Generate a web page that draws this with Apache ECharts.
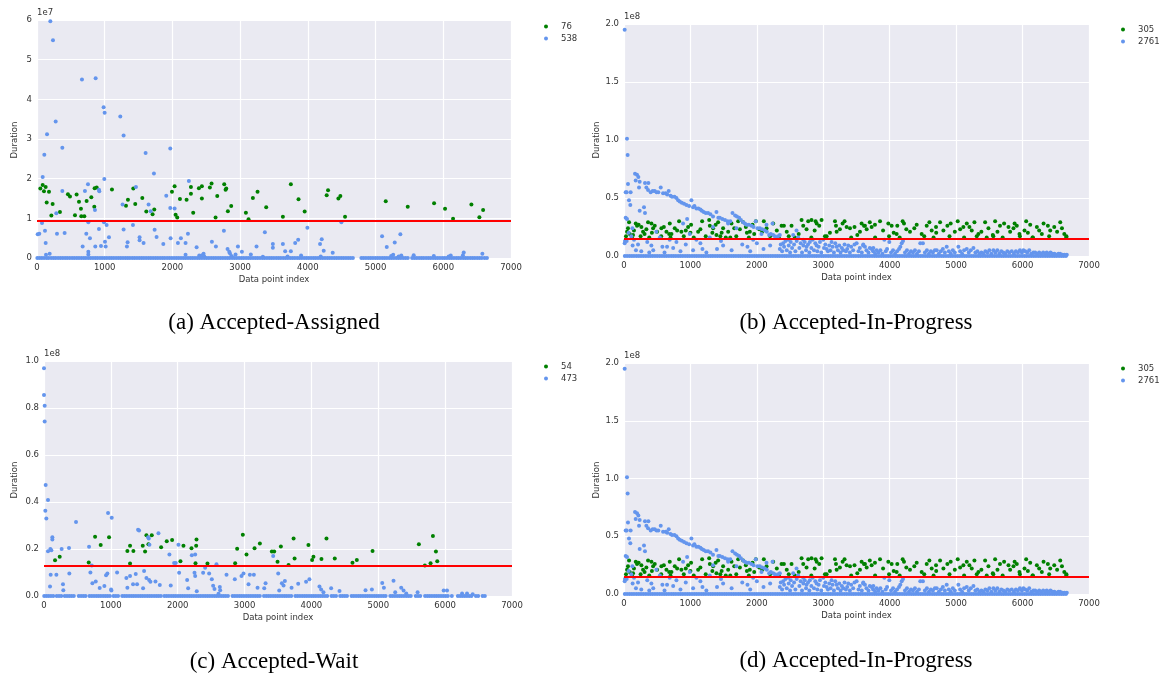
<!DOCTYPE html>
<html>
<head>
<meta charset="utf-8">
<script src="https://cdn.jsdelivr.net/npm/echarts@6.0.0/dist/echarts.min.js"></script>
<style>
  html, body { margin: 0; padding: 0; background: #fff; }
  #chart { width: 1166px; height: 675px; }
</style>
</head>
<body>
<div id="chart"></div>
<script>
const GREEN = '#008000';
const BLUE = '#6495ed';
const RED = '#ff0000';
const TEXT = '#333333';
const FONT = 'DejaVu Sans';

const xTicks = [0, 1000, 2000, 3000, 4000, 5000, 6000, 7000];
const captions = ['(a) Accepted-Assigned', '(b) Accepted-In-Progress', '(c) Accepted-Wait', '(d) Accepted-In-Progress'];

// (a) Accepted-Assigned, durations in units of 1e7
const aLegend = ['76', '538'];
const aYTicks = [0, 1, 2, 3, 4, 5, 6];
const aLimit = 0.925;
const aGreen = [
  [49, 1.75], [84, 1.84], [103, 1.68], [128, 1.79], [143, 1.40], [177, 1.67], [212, 1.07], [231, 1.36], [339, 1.16],
  [457, 1.61], [487, 1.55], [561, 1.08], [585, 1.60], [620, 1.42], [649, 1.24], [654, 1.05], [699, 1.05], [733, 1.44],
  [802, 1.53], [846, 1.29], [851, 1.76], [881, 1.78], [1107, 1.73], [1343, 1.47], [1314, 1.32], [1422, 1.75], [1451, 1.36],
  [1555, 1.51], [1614, 1.17], [1707, 1.10], [1732, 1.22], [1993, 1.67], [2032, 1.81], [2047, 1.09], [2071, 1.02],
  [2111, 1.49], [2209, 1.47], [2273, 1.79], [2273, 1.62], [2307, 1.14], [2391, 1.76], [2435, 1.81], [2435, 1.50],
  [2553, 1.78], [2578, 1.88], [2637, 1.02], [2662, 1.56], [2765, 1.86], [2785, 1.72], [2795, 1.75], [2819, 1.18],
  [2868, 1.31], [3085, 1.14], [3124, 0.98], [3188, 1.51], [3257, 1.67], [3385, 1.28], [3631, 1.04], [3749, 1.86],
  [3862, 1.48], [3953, 1.17], [4278, 1.58], [4298, 1.71], [4451, 1.50], [4480, 1.56], [4549, 1.04], [5150, 1.43],
  [5475, 1.29], [5864, 1.38], [6026, 1.24], [6144, 0.99], [6415, 1.35], [6533, 1.03], [6588, 1.21]
];
const aBlue = [
  [197, 5.97], [236, 5.49], [664, 4.50], [866, 4.53], [984, 3.80], [999, 3.66], [1230, 3.57], [1279, 3.09], [276, 3.44],
  [148, 3.12], [374, 2.78], [108, 2.60], [1604, 2.65], [1968, 2.76], [1727, 2.13], [84, 2.04], [994, 1.99], [2243, 1.94],
  [753, 1.86], [1461, 1.79], [374, 1.69], [708, 1.69], [915, 1.72], [920, 1.68], [1909, 1.57], [856, 1.21], [1648, 1.35],
  [1264, 1.35], [1968, 1.26], [2032, 1.25], [1678, 1.18], [285, 1.13], [74, 0.88], [758, 0.90], [989, 0.90], [1028, 0.83],
  [1417, 0.83], [118, 0.69], [2760, 0.69], [10, 0.60], [34, 0.61], [295, 0.61], [408, 0.63], [728, 0.61], [2229, 0.61],
  [915, 0.73], [1279, 0.72], [1737, 0.71], [1063, 0.52], [782, 0.50], [1515, 0.52], [1515, 0.45], [1973, 0.50],
  [2125, 0.50], [1766, 0.53], [1338, 0.40], [1328, 0.29], [1004, 0.41], [128, 0.38], [1574, 0.38], [1865, 0.35],
  [2081, 0.38], [2194, 0.38], [2583, 0.41], [2642, 0.29], [2357, 0.27], [861, 0.29], [674, 0.29], [945, 0.30],
  [1014, 0.29], [2814, 0.23], [2967, 0.29], [3242, 0.29], [3026, 0.16], [2932, 0.09], [3158, 0.09], [2839, 0.16],
  [2849, 0.12], [758, 0.16], [758, 0.09], [187, 0.11], [133, 0.08], [2194, 0.08], [2460, 0.11], [2396, 0.06],
  [2420, 0.05], [2440, 0.07], [2470, 0.04], [3365, 0.65], [3483, 0.35], [3483, 0.26], [3631, 0.35], [3665, 0.17],
  [3749, 0.17], [3813, 0.38], [3857, 0.46], [3336, 0.03], [3993, 0.76], [4495, 0.90], [4180, 0.35], [4205, 0.47],
  [4234, 0.18], [4367, 0.13], [5096, 0.55], [5165, 0.28], [5283, 0.39], [5366, 0.60], [5230, 0.05], [5260, 0.08],
  [5340, 0.04], [5380, 0.06], [5563, 0.07], [5860, 0.05], [6080, 0.04], [6110, 0.06], [6302, 0.14], [6290, 0.07],
  [6577, 0.11], [3700, 0.04], [3900, 0.06], [4190, 0.04], [2870, 0.05], [2880, 0.03]
];
const aZero = [
  5, 38, 71, 104, 140, 172, 209, 243, 276, 311, 345, 380, 414, 447, 483, 518, 551, 587, 620, 655, 690, 722, 757, 791,
  826, 860, 893, 929, 962, 997, 1031, 1066, 1099, 1133, 1168, 1202, 1236, 1270, 1305, 1339, 1372, 1407, 1441, 1476,
  1510, 1545, 1578, 1612, 1647, 1681, 1715, 1750, 1784, 1818, 1852, 1886, 1921, 1955, 1990, 2024, 2058, 2092, 2127,
  2161, 2195, 2230, 2264, 2298, 2332, 2367, 2401, 2435, 2469, 2504, 2538, 2572, 2607, 2641, 2675, 2709, 2744, 2778,
  2812, 2846, 2881, 2915, 2949, 2984, 3018, 3052, 3087, 3121, 3155, 3190, 3224, 3258, 3293, 3327, 3361, 3396, 3430,
  3464, 3498, 3533, 3567, 3601, 3636, 3670, 3704, 3739, 3773, 3807, 3842, 3876, 3910, 3945, 3979, 4013, 4047, 4082,
  4116, 4150, 4185, 4219, 4253, 4288, 4322, 4356, 4390, 4425, 4459, 4493, 4527, 4562, 4596, 4630, 4665, 4790, 4824,
  4858, 4893, 4927, 4961, 4996, 5030, 5064, 5099, 5133, 5167, 5202, 5236, 5270, 5305, 5339, 5373, 5408, 5442, 5476,
  5540, 5574, 5608, 5643, 5677, 5711, 5746, 5780, 5814, 5849, 5883, 5917, 5951, 5986, 6020, 6054, 6089, 6123, 6157,
  6192, 6226, 6260, 6295, 6329, 6363, 6398, 6432, 6466, 6501, 6535, 6569, 6610, 6645
];

// (b) and (d) Accepted-In-Progress, durations in units of 1e8
const bLegend = ['305', '2761'];
const bYTicks = [0, 0.5, 1.0, 1.5, 2.0];
const bLimit = 0.155;
const bGreen = [
  [76, 0.29], [46, 0.21], [86, 0.19], [136, 0.18], [177, 0.28], [196, 0.26], [262, 0.25], [287, 0.21], [337, 0.23],
  [362, 0.29], [413, 0.28], [438, 0.24], [463, 0.26], [498, 0.21], [563, 0.24], [639, 0.21], [689, 0.28], [714, 0.19],
  [764, 0.24], [829, 0.30], [864, 0.21], [930, 0.22], [965, 0.25], [1000, 0.20], [1116, 0.21], [1176, 0.30],
  [1282, 0.31], [1292, 0.26], [1342, 0.24], [1392, 0.18], [1417, 0.29], [1492, 0.24], [1532, 0.16], [1568, 0.21],
  [1618, 0.28], [1719, 0.30], [1744, 0.23], [1794, 0.29], [1834, 0.25], [1894, 0.21], [1935, 0.27], [1985, 0.30],
  [2035, 0.23], [2105, 0.30], [2146, 0.24], [2246, 0.28], [2372, 0.26], [2407, 0.26], [2522, 0.26], [2572, 0.16],
  [2673, 0.31], [2698, 0.26], [2748, 0.23], [2773, 0.30], [2823, 0.31], [2884, 0.30], [2939, 0.26], [2974, 0.31],
  [3025, 0.17], [3176, 0.30], [3191, 0.26], [3201, 0.21], [3291, 0.28], [3351, 0.25], [3402, 0.24], [3512, 0.18],
  [3552, 0.21], [3577, 0.28], [3613, 0.26], [3653, 0.23], [3627, 0.26], [3728, 0.25], [3778, 0.27], [3854, 0.30],
  [3979, 0.28], [4029, 0.26], [4114, 0.26], [4195, 0.30], [4215, 0.28], [4104, 0.19], [4305, 0.21], [4406, 0.27],
  [4481, 0.19], [4557, 0.26], [4597, 0.29], [4632, 0.22], [4697, 0.25], [4758, 0.29], [4808, 0.22], [4868, 0.26],
  [4918, 0.28], [5024, 0.30], [5109, 0.25], [5160, 0.28], [5235, 0.22], [5275, 0.29], [5335, 0.19], [5436, 0.29],
  [5486, 0.24], [5552, 0.18], [5587, 0.30], [5622, 0.21], [5722, 0.28], [5788, 0.25], [5813, 0.21], [5863, 0.24],
  [5913, 0.26], [5953, 0.19], [6029, 0.22], [6054, 0.30], [6115, 0.27], [6155, 0.16], [6215, 0.25], [6290, 0.19],
  [6316, 0.28], [6381, 0.26], [6416, 0.22], [6477, 0.25], [6567, 0.29], [6593, 0.24], [6628, 0.19], [6658, 0.16],
  [30, 0.17], [120, 0.16], [250, 0.17], [380, 0.16], [560, 0.17], [700, 0.16], [900, 0.17], [1050, 0.16], [1230, 0.17],
  [1450, 0.17], [1600, 0.16], [1690, 0.17], [1880, 0.16], [2200, 0.17], [2330, 0.16], [2480, 0.17], [2820, 0.16],
  [3050, 0.17], [3420, 0.16], [3780, 0.16], [3990, 0.17], [4150, 0.16], [4520, 0.17], [4660, 0.16], [4900, 0.17],
  [5120, 0.16], [5310, 0.17], [5460, 0.16], [5560, 0.17], [5700, 0.16], [5960, 0.17], [6150, 0.16], [6400, 0.17],
  [6660, 0.17], [60, 0.24], [150, 0.22], [220, 0.27], [310, 0.19], [420, 0.20], [600, 0.25], [680, 0.19], [800, 0.22],
  [1010, 0.27], [1150, 0.23], [1330, 0.20], [1380, 0.27], [1470, 0.20], [1660, 0.24], [1850, 0.20], [1960, 0.19],
  [2080, 0.21], [2300, 0.22], [2450, 0.21], [2630, 0.19], [2870, 0.22], [2900, 0.28], [3100, 0.20], [3250, 0.23],
  [3320, 0.30], [3470, 0.25], [3700, 0.29], [3900, 0.22], [4060, 0.20], [4250, 0.23], [4370, 0.24], [4700, 0.20],
  [4980, 0.21], [5060, 0.23], [5200, 0.25], [5380, 0.21], [5660, 0.26], [5880, 0.28], [6080, 0.20], [6250, 0.22],
  [6520, 0.21]
];
const bBlue = [
  [10, 1.95], [45, 1.01], [55, 0.87], [60, 0.62], [25, 0.55], [40, 0.55], [100, 0.55], [75, 0.48], [95, 0.44], [25, 0.33],
  [45, 0.32], [15, 0.13], [40, 0.13], [10, 0.11], [166, 0.71], [196, 0.70], [216, 0.68], [176, 0.65], [236, 0.64],
  [226, 0.59], [316, 0.63], [367, 0.63], [337, 0.59], [362, 0.57], [402, 0.55], [432, 0.56], [462, 0.56], [490, 0.55],
  [517, 0.55], [553, 0.59], [588, 0.54], [628, 0.54], [650, 0.53], [673, 0.56], [700, 0.52], [723, 0.51], [760, 0.51],
  [789, 0.50], [815, 0.48], [839, 0.47], [870, 0.46], [904, 0.45], [940, 0.44], [980, 0.43], [1015, 0.48], [1040, 0.42],
  [1060, 0.43], [1090, 0.41], [1120, 0.41], [1150, 0.40], [1171, 0.39], [1200, 0.38], [1231, 0.37], [1265, 0.37],
  [1301, 0.36], [1340, 0.34], [1392, 0.38], [1420, 0.33], [1442, 0.33], [1480, 0.32], [1520, 0.31], [1560, 0.30],
  [1600, 0.30], [1633, 0.37], [1673, 0.35], [1700, 0.34], [1733, 0.33], [1760, 0.31], [1794, 0.29], [1820, 0.28],
  [1844, 0.27], [1880, 0.27], [1919, 0.26], [1950, 0.25], [1984, 0.30], [2010, 0.24], [2045, 0.24], [2080, 0.23],
  [2120, 0.22], [2150, 0.21], [2185, 0.18], [2210, 0.19], [2246, 0.18], [2270, 0.17], [2296, 0.16], [2320, 0.17],
  [2346, 0.18], [316, 0.37], [301, 0.42], [236, 0.39], [126, 0.24], [151, 0.14], [211, 0.10], [412, 0.09], [487, 0.21],
  [578, 0.08], [648, 0.08], [688, 0.14], [789, 0.12], [889, 0.28], [950, 0.32], [990, 0.19], [1090, 0.14], [1181, 0.06],
  [1291, 0.16], [1341, 0.25], [1492, 0.09], [1567, 0.28], [1693, 0.24], [1859, 0.08], [1944, 0.14], [2070, 0.19],
  [2145, 0.27], [2236, 0.28], [70, 0.20], [110, 0.17], [130, 0.09], [180, 0.05], [260, 0.04], [350, 0.12], [380, 0.03],
  [440, 0.05], [540, 0.16], [610, 0.03], [740, 0.07], [850, 0.04], [930, 0.10], [1040, 0.05], [1150, 0.11], [1240, 0.03],
  [1400, 0.06], [1460, 0.13], [1620, 0.05], [1780, 0.10], [1900, 0.04], [2000, 0.11], [2100, 0.06], [2200, 0.09],
  [2346, 0.06], [2396, 0.11], [2472, 0.14], [2547, 0.18], [2597, 0.22], [2622, 0.16], [2698, 0.14], [2748, 0.08],
  [2798, 0.12], [2899, 0.09], [2999, 0.14], [3050, 0.06], [3125, 0.12], [3200, 0.08], [3301, 0.05], [3376, 0.09],
  [3502, 0.11], [3627, 0.08], [3728, 0.06], [3803, 0.05], [2360, 0.10], [2380, 0.04], [2410, 0.08], [2430, 0.13],
  [2450, 0.05], [2480, 0.09], [2500, 0.03], [2510, 0.12], [2530, 0.07], [2560, 0.10], [2580, 0.04], [2600, 0.13],
  [2640, 0.07], [2660, 0.11], [2680, 0.03], [2700, 0.09], [2720, 0.12], [2740, 0.05], [2770, 0.10], [2790, 0.03],
  [2820, 0.07], [2840, 0.14], [2860, 0.05], [2880, 0.11], [2910, 0.04], [2930, 0.08], [2950, 0.12], [2970, 0.03],
  [3010, 0.07], [3030, 0.10], [3070, 0.04], [3090, 0.09], [3110, 0.05], [3140, 0.08], [3160, 0.03], [3180, 0.11],
  [3220, 0.05], [3240, 0.09], [3260, 0.03], [3280, 0.07], [3320, 0.10], [3340, 0.04], [3360, 0.06], [3400, 0.03],
  [3420, 0.08], [3450, 0.05], [3470, 0.10], [3530, 0.04], [3550, 0.07], [3580, 0.03], [3600, 0.09], [3650, 0.05],
  [3680, 0.03], [3700, 0.07], [3750, 0.04], [3780, 0.02], [3602, 0.10], [3753, 0.07], [3919, 0.14], [3994, 0.12],
  [4180, 0.11], [4200, 0.13], [4460, 0.11], [4500, 0.11], [4708, 0.05], [4858, 0.08], [5034, 0.08], [5160, 0.06],
  [5260, 0.07], [5561, 0.05], [5837, 0.04], [6013, 0.05], [6163, 0.03], [6364, 0.03], [6565, 0.02], [6666, 0.01],
  [3830, 0.03], [3860, 0.05], [3890, 0.02], [3940, 0.04], [3960, 0.06], [4020, 0.03], [4050, 0.05], [4080, 0.02],
  [4110, 0.04], [4140, 0.06], [4160, 0.08], [4230, 0.03], [4260, 0.05], [4290, 0.02], [4320, 0.04], [4350, 0.03],
  [4380, 0.05], [4410, 0.02], [4440, 0.04], [4530, 0.03], [4560, 0.05], [4590, 0.02], [4620, 0.04], [4650, 0.03],
  [4680, 0.05], [4740, 0.02], [4770, 0.04], [4800, 0.06], [4830, 0.03], [4890, 0.04], [4920, 0.02], [4950, 0.05],
  [4980, 0.03], [5060, 0.04], [5090, 0.02], [5120, 0.05], [5190, 0.03], [5220, 0.05], [5290, 0.03], [5320, 0.04],
  [5350, 0.02], [5380, 0.03], [5410, 0.02], [5440, 0.04], [5470, 0.03], [5500, 0.05], [5530, 0.02], [5590, 0.03],
  [5620, 0.05], [5650, 0.02], [5680, 0.04], [5710, 0.03], [5740, 0.02], [5770, 0.04], [5800, 0.03], [5870, 0.02],
  [5900, 0.04], [5930, 0.03], [5960, 0.05], [5990, 0.03], [6040, 0.04], [6070, 0.03], [6100, 0.05], [6130, 0.02],
  [6190, 0.03], [6220, 0.02], [6250, 0.03], [6280, 0.02], [6310, 0.03], [6340, 0.02], [6390, 0.02], [6420, 0.03],
  [6450, 0.02], [6480, 0.02], [6510, 0.01], [6540, 0.02], [6600, 0.01], [6630, 0.01]
];
const bZero = [
  12, 47, 83, 118, 151, 187, 222, 256, 291, 327, 362, 396, 431, 466, 500, 536, 571, 605, 640, 676, 711, 745, 780, 815,
  850, 884, 919, 954, 989, 1024, 1058, 1093, 1128, 1163, 1197, 1232, 1267, 1302, 1336, 1371, 1406, 1441, 1475, 1510,
  1545, 1580, 1614, 1649, 1684, 1719, 1753, 1788, 1823, 1858, 1892, 1927, 1962, 1997, 2031, 2066, 2101, 2136, 2170,
  2205, 2240, 2275, 2309, 2344, 2379, 2414, 2448, 2483, 2518, 2553, 2587, 2622, 2657, 2692, 2726, 2761, 2796, 2831,
  2865, 2900, 2935, 2970, 3004, 3039, 3074, 3109, 3143, 3178, 3213, 3248, 3282, 3317, 3352, 3387, 3421, 3456, 3491,
  3526, 3560, 3595, 3630, 3665, 3699, 3734, 3769, 3804, 3838, 3873, 3908, 3943, 3977, 4012, 4047, 4082, 4116, 4151,
  4186, 4221, 4255, 4290, 4325, 4360, 4394, 4429, 4464, 4499, 4533, 4568, 4603, 4638, 4672, 4707, 4742, 4777, 4811,
  4846, 4881, 4916, 4950, 4985, 5020, 5055, 5089, 5124, 5159, 5194, 5228, 5263, 5298, 5333, 5367, 5402, 5437, 5472,
  5506, 5541, 5576, 5611, 5645, 5680, 5715, 5750, 5784, 5819, 5854, 5889, 5923, 5958, 5993, 6028, 6062, 6097, 6132,
  6167, 6201, 6236, 6271, 6306, 6340, 6375, 6410, 6445, 6479, 6514, 6549, 6584, 6618, 6653
];

// (c) Accepted-Wait, durations in units of 1e8
const cLegend = ['54', '473'];
const cYTicks = [0, 0.2, 0.4, 0.6, 0.8, 1.0];
const cLimit = 0.132;
const cGreen = [
  [165, 0.152], [235, 0.167], [669, 0.143], [764, 0.252], [848, 0.217], [973, 0.25], [1247, 0.191], [1287, 0.214],
  [1287, 0.138], [1337, 0.191], [1477, 0.214], [1512, 0.189], [1532, 0.258], [1562, 0.22], [1612, 0.258], [1752, 0.207],
  [1836, 0.233], [1916, 0.238], [2041, 0.148], [2086, 0.214], [2206, 0.203], [2266, 0.139], [2276, 0.214], [2281, 0.24],
  [2445, 0.138], [2859, 0.139], [2889, 0.201], [2974, 0.261], [3029, 0.177], [3149, 0.203], [3229, 0.223], [3408, 0.189],
  [3443, 0.189], [3493, 0.146], [3543, 0.211], [3658, 0.132], [3733, 0.245], [3748, 0.16], [3955, 0.217], [4010, 0.153],
  [4030, 0.167], [4150, 0.157], [4225, 0.245], [4349, 0.16], [4614, 0.142], [4679, 0.153], [4914, 0.191], [5607, 0.22],
  [5697, 0.13], [5782, 0.139], [5817, 0.255], [5862, 0.189], [5882, 0.148]
];
const cBlue = [
  [0, 0.969], [0, 0.855], [10, 0.81], [10, 0.743], [25, 0.472], [20, 0.363], [60, 0.409], [35, 0.33], [60, 0.19],
  [95, 0.20], [125, 0.25], [125, 0.24], [110, 0.195], [264, 0.20], [374, 0.204], [479, 0.315], [100, 0.09], [90, 0.04],
  [185, 0.09], [284, 0.05], [289, 0.025], [379, 0.096], [674, 0.21], [694, 0.10], [714, 0.13], [724, 0.054], [774, 0.062],
  [833, 0.034], [903, 0.043], [928, 0.088], [948, 0.096], [958, 0.353], [1013, 0.333], [1003, 0.028], [1008, 0.023],
  [1093, 0.10], [1232, 0.077], [1247, 0.035], [1287, 0.085], [1332, 0.05], [1372, 0.094], [1392, 0.05], [1407, 0.282],
  [1422, 0.279], [1482, 0.033], [1497, 0.106], [1532, 0.077], [1557, 0.25], [1567, 0.245], [1577, 0.218], [1592, 0.061],
  [1572, 0.068], [1667, 0.062], [1712, 0.267], [1732, 0.047], [1876, 0.177], [1896, 0.045], [1946, 0.14], [1971, 0.14],
  [2011, 0.218], [2021, 0.099], [2141, 0.068], [2156, 0.033], [2211, 0.173], [2261, 0.177], [2251, 0.099], [2261, 0.085],
  [2285, 0.02], [2380, 0.099], [2410, 0.12], [2470, 0.096], [2510, 0.071], [2530, 0.044], [2550, 0.03], [2580, 0.135],
  [2610, 0.01], [2630, 0.038], [2635, 0.025], [2730, 0.09], [2854, 0.071], [2954, 0.085], [2984, 0.096], [3059, 0.05],
  [3079, 0.09], [3139, 0.09], [3194, 0.035], [3294, 0.033], [3314, 0.054], [3428, 0.17], [3503, 0.096], [3518, 0.023],
  [3558, 0.054], [3583, 0.045], [3603, 0.064], [3703, 0.035], [3802, 0.052], [3920, 0.061], [3970, 0.071], [4120, 0.04],
  [4145, 0.028], [4180, 0.016], [4295, 0.033], [4420, 0.021], [4809, 0.024], [4904, 0.028], [5059, 0.055], [5084, 0.035],
  [5228, 0.065], [5253, 0.016], [5343, 0.035], [5378, 0.023], [5418, 0.011], [5588, 0.016], [5978, 0.023], [6028, 0.023],
  [6253, 0.011], [6327, 0.011], [6412, 0.007]
];
const cZero = [
  3, 36, 70, 104, 138, 190, 224, 258, 310, 344, 378, 412, 446, 520, 554, 588, 622, 680, 714, 748, 782, 816, 850, 884,
  918, 952, 986, 1040, 1074, 1108, 1170, 1204, 1238, 1272, 1306, 1340, 1374, 1408, 1442, 1476, 1510, 1544, 1578, 1612,
  1646, 1680, 1714, 1748, 1800, 1834, 1868, 1902, 1936, 1970, 2004, 2038, 2072, 2106, 2140, 2174, 2208, 2242, 2276,
  2310, 2344, 2378, 2412, 2446, 2480, 2514, 2548, 2582, 2616, 2650, 2684, 2718, 2752, 2820, 2854, 2888, 2922, 2956,
  2990, 3024, 3058, 3092, 3126, 3160, 3194, 3228, 3290, 3324, 3358, 3392, 3426, 3460, 3494, 3528, 3562, 3596, 3630,
  3664, 3698, 3760, 3794, 3828, 3862, 3896, 3930, 3964, 3998, 4032, 4066, 4100, 4134, 4168, 4202, 4236, 4300, 4334,
  4368, 4430, 4464, 4498, 4532, 4600, 4634, 4668, 4702, 4736, 4770, 4804, 4838, 4872, 4906, 4940, 4974, 5008, 5042,
  5076, 5110, 5180, 5214, 5248, 5282, 5316, 5350, 5384, 5418, 5452, 5486, 5560, 5594, 5628, 5700, 5734, 5768, 5802,
  5836, 5870, 5904, 5938, 5972, 6006, 6040, 6100, 6190, 6224, 6258, 6292, 6326, 6360, 6394, 6460, 6494, 6560, 6594
];

// layout of the four panels (pixels)
const panels = [
  { grid: { left: 37, top: 20, width: 474, height: 238 }, legend: [544, 22], ylabel: [15, 140], caption: [274, 323],
    exp: '1e7', digits: 0, yTicks: aYTicks, green: aGreen, blue: aBlue, zero: aZero, names: aLegend, limit: aLimit },
  { grid: { left: 624, top: 24, width: 465, height: 232 }, legend: [1121, 25], ylabel: [597, 140], caption: [856, 323],
    exp: '1e8', digits: 1, yTicks: bYTicks, green: bGreen, blue: bBlue, zero: bZero, names: bLegend, limit: bLimit },
  { grid: { left: 44, top: 361, width: 468, height: 235 }, legend: [544, 362], ylabel: [15, 480], caption: [274, 662],
    exp: '1e8', digits: 1, yTicks: cYTicks, green: cGreen, blue: cBlue, zero: cZero, names: cLegend, limit: cLimit },
  { grid: { left: 624, top: 363, width: 465, height: 231 }, legend: [1121, 364], ylabel: [597, 480], caption: [856, 661],
    exp: '1e8', digits: 1, yTicks: bYTicks, green: bGreen, blue: bBlue, zero: bZero, names: bLegend, limit: bLimit },
];

const axisText = { color: TEXT, fontFamily: FONT, fontSize: 8.5 };
const gridLine = { show: true, lineStyle: { color: '#ffffff', width: 1.2 } };

const option = {
  animation: false,
  backgroundColor: '#ffffff',
  grid: [], xAxis: [], yAxis: [], legend: [], series: [], graphic: [],
};

panels.forEach((p, i) => {
  option.grid.push(Object.assign({ show: true, backgroundColor: '#eaeaf2', borderWidth: 0 }, p.grid));

  option.xAxis.push({
    gridIndex: i, type: 'value',
    min: xTicks[0], max: xTicks[xTicks.length - 1], interval: xTicks[1] - xTicks[0],
    name: 'Data point index', nameLocation: 'middle', nameGap: 17, nameTextStyle: axisText,
    axisLine: { show: false }, axisTick: { show: false },
    axisLabel: Object.assign({ margin: 5, formatter: (v) => String(v) }, axisText),
    splitLine: gridLine,
  });

  option.yAxis.push({
    gridIndex: i, type: 'value',
    min: p.yTicks[0], max: p.yTicks[p.yTicks.length - 1], interval: p.yTicks[1] - p.yTicks[0],
    name: p.exp, nameLocation: 'end', nameGap: 3,
    nameTextStyle: Object.assign({ align: 'left' }, axisText),
    axisLine: { show: false }, axisTick: { show: false },
    axisLabel: Object.assign({ margin: 5, formatter: (v) => v.toFixed(p.digits) }, axisText),
    splitLine: gridLine,
  });

  option.legend.push({
    data: p.names, orient: 'vertical', left: p.legend[0], top: p.legend[1], padding: 0,
    itemWidth: 4, itemHeight: 4, itemGap: 3, icon: 'circle', selectedMode: false,
    textStyle: Object.assign({ padding: [0, 0, 0, 8] }, axisText),
  });

  option.series.push({
    name: p.names[0], type: 'scatter', xAxisIndex: i, yAxisIndex: i, silent: true,
    symbolSize: 4, itemStyle: { color: GREEN, opacity: 1 }, data: p.green,
  });
  option.series.push({
    name: p.names[1], type: 'scatter', xAxisIndex: i, yAxisIndex: i, silent: true,
    symbolSize: 4, itemStyle: { color: BLUE, opacity: 1 },
    data: p.blue.concat(p.zero.map((x) => [x, 0])),
    markLine: {
      silent: true, symbol: ['none', 'none'], label: { show: false },
      lineStyle: { color: RED, width: 2, type: 'solid' },
      data: [{ yAxis: p.limit }],
    },
  });

  option.graphic.push({
    type: 'text', x: p.ylabel[0], y: p.ylabel[1], rotation: Math.PI / 2,
    style: { text: 'Duration', align: 'center', verticalAlign: 'middle', fill: TEXT, font: `8.5px "${FONT}"` },
  });
  option.graphic.push({
    type: 'text', x: p.caption[0], y: p.caption[1],
    style: { text: captions[i], align: 'center', verticalAlign: 'middle', fill: '#000', font: '23px "Liberation Serif"' },
  });
});

const chart = echarts.init(document.getElementById('chart'), null, { renderer: 'canvas' });
chart.setOption(option);
</script>
</body>
</html>
